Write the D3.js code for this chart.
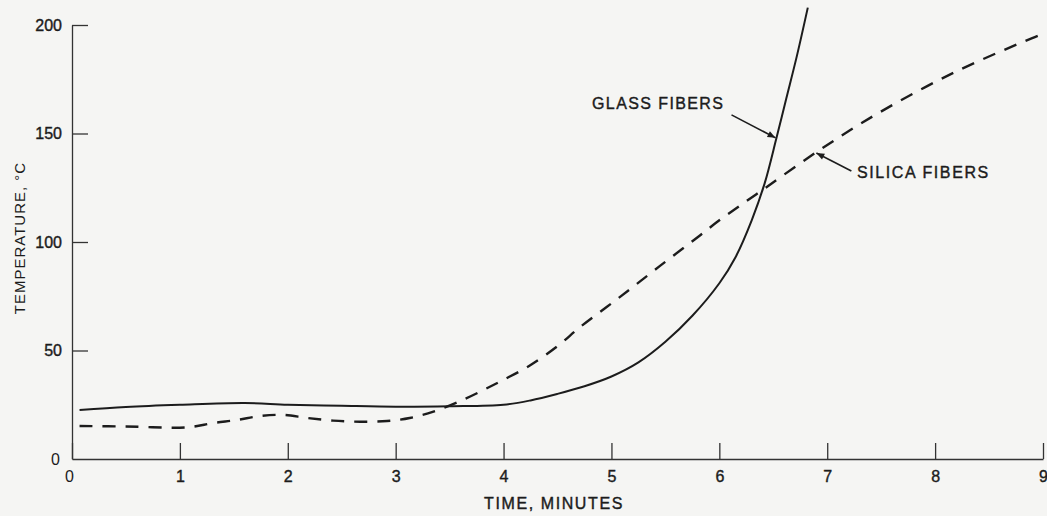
<!DOCTYPE html>
<html>
<head>
<meta charset="utf-8">
<script src="https://cdn.jsdelivr.net/npm/d3@7"></script>
<style>
  html, body { margin: 0; padding: 0; background: #f5f5f3; }
  svg { display: block; }
  text { font-family: "Liberation Sans", Arial, sans-serif; fill: #1c1c1c; }
  .heavy { stroke: #1c1c1c; stroke-width: 0.4px; }
</style>
</head>
<body>
<svg id="chart" width="1047" height="516"></svg>
<script>
// Time in minutes and temperature in °C for each insulation type
const glassTime = [0.07, 0.5, 1.0, 1.6, 2.0, 2.5, 3.0, 3.5, 4.0, 4.25, 4.5, 4.75, 5.0, 5.25, 5.5, 5.75, 6.0, 6.15, 6.3, 6.42, 6.53, 6.62, 6.72, 6.82];
const glassTemp = [22.6, 24.0, 25.0, 25.8, 25.0, 24.5, 24.1, 24.3, 25.0, 27.0, 30.0, 33.5, 38.0, 44.5, 54.0, 66.0, 81.0, 93.0, 110, 127, 148, 166, 186, 208];

const silicaTime = [0.07, 0.5, 1.07, 1.31, 1.53, 1.74, 1.96, 2.18, 2.42, 2.67, 2.92, 3.13, 3.35, 3.62, 3.85, 4.0, 4.24, 4.5, 4.71, 5.08, 5.45, 5.82, 6.0, 6.4, 6.93, 7.46, 8.17, 8.9, 9.0];
const silicaTemp = [15.2, 15.0, 14.6, 16.6, 18.0, 19.8, 20.3, 18.9, 17.7, 17.2, 17.5, 18.9, 21.8, 27.2, 32.7, 36.5, 43.0, 52.0, 60.8, 74.7, 89.0, 103, 110, 124, 142.4, 159, 178, 194, 196];

const xTicks = [0, 1, 2, 3, 4, 5, 6, 7, 8, 9];
const yTicks = [0, 50, 100, 150, 200];

const seriesLabels = ["GLASS FIBERS", "SILICA FIBERS"];
const glassPointer = [6.53, 148];
const silicaPointer = [6.89, 141];

const svg = d3.select("#chart");

const x = d3.scaleLinear().domain([0, 9]).range([72, 1043]);
const y = d3.scaleLinear().domain([0, 200]).range([459, 25]);

const ink = "#1c1c1c";

const defs = svg.append("defs");
defs.append("marker")
  .attr("id", "head")
  .attr("viewBox", "0 0 10 10")
  .attr("refX", 10).attr("refY", 5)
  .attr("markerWidth", 12).attr("markerHeight", 8)
  .attr("markerUnits", "userSpaceOnUse")
  .attr("orient", "auto")
  .append("path").attr("d", "M0,1 L10,5 L0,9 Z").attr("fill", ink);

// Axes
const xAxis = d3.axisBottom(x).tickValues(xTicks).tickFormat(d3.format("d"))
  .tickSizeInner(-16).tickSizeOuter(0).tickPadding(12);
const yAxis = d3.axisLeft(y).tickValues(yTicks).tickFormat(d3.format("d"))
  .tickSizeInner(-16).tickSizeOuter(0).tickPadding(10);

const gx = svg.append("g").attr("transform", `translate(0,${y(0)})`).call(xAxis);
const gy = svg.append("g").attr("transform", `translate(${x(0)},0)`).call(yAxis);

[gx, gy].forEach(g => {
  g.select(".domain").attr("stroke", "#333").attr("stroke-width", 1.3);
  g.selectAll(".tick line").attr("stroke", "#333").attr("stroke-width", 1.3);
  g.selectAll(".tick text")
    .style("font-family", '"Liberation Sans", Arial, sans-serif')
    .style("font-size", "16px")
    .attr("class", "heavy")
    .attr("fill", ink);
});
gx.selectAll(".tick").filter(d => d === 0).select("text")
  .attr("dx", "-3").attr("fill", "#777").attr("class", null);
gy.selectAll(".tick").filter(d => d === 0).select("line").remove();
gy.selectAll(".tick").filter(d => d === 0).select("text")
  .attr("dx", "-2").attr("fill", "#777").attr("class", null);

// Axis titles
svg.append("text")
  .attr("x", 554).attr("y", 509)
  .attr("text-anchor", "middle")
  .attr("class", "heavy")
  .style("font-size", "16px").style("letter-spacing", "1.6px")
  .text("TIME, MINUTES");

svg.append("text")
  .attr("transform", "translate(25,238) rotate(-90)")
  .attr("text-anchor", "middle")
  .style("font-size", "15px").style("letter-spacing", "1px")
  .text("TEMPERATURE, °C");

// Curves
const line = d3.line().x(d => x(d[0])).y(d => y(d[1])).curve(d3.curveCatmullRom.alpha(0.5));

svg.append("path")
  .datum(d3.zip(silicaTime, silicaTemp))
  .attr("d", line)
  .attr("fill", "none").attr("stroke", ink)
  .attr("stroke-width", 2.4).attr("stroke-dasharray", "13,10");

svg.append("path")
  .datum(d3.zip(glassTime, glassTemp))
  .attr("d", line)
  .attr("fill", "none").attr("stroke", ink)
  .attr("stroke-width", 2);

// Curve labels with pointers
svg.append("text")
  .attr("x", 592).attr("y", 109)
  .attr("class", "heavy")
  .style("font-size", "16px").style("letter-spacing", "1.4px")
  .text(seriesLabels[0]);

svg.append("line")
  .attr("x1", x(glassPointer[0]) - 45).attr("y1", y(glassPointer[1]) - 23)
  .attr("x2", x(glassPointer[0]) - 1).attr("y2", y(glassPointer[1]))
  .attr("stroke", ink).attr("stroke-width", 1.6)
  .attr("marker-end", "url(#head)");

svg.append("text")
  .attr("x", 857).attr("y", 178)
  .attr("class", "heavy")
  .style("font-size", "16px").style("letter-spacing", "1.6px")
  .text(seriesLabels[1]);

svg.append("line")
  .attr("x1", x(silicaPointer[0]) + 36).attr("y1", y(silicaPointer[1]) + 18)
  .attr("x2", x(silicaPointer[0]) + 1).attr("y2", y(silicaPointer[1]))
  .attr("stroke", ink).attr("stroke-width", 1.6)
  .attr("marker-end", "url(#head)");
</script>
</body>
</html>
